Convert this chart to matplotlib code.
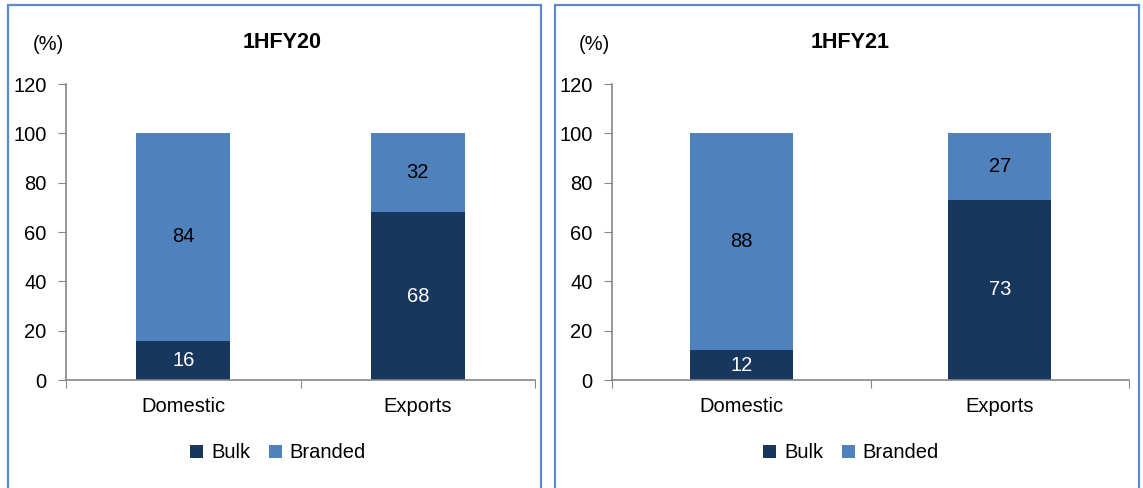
import matplotlib.pyplot as plt
from matplotlib.patches import Rectangle
import numpy as np

plt.rcParams['font.family'] = ['Liberation Sans', 'DejaVu Sans']
FS = 14.5
TFS = 15.5

categories = ["Domestic", "Exports"]
titles = ["1HFY20", "1HFY21"]
bulk = [[16, 68], [12, 73]]
branded = [[84, 32], [88, 27]]
yticks = [0, 20, 40, 60, 80, 100, 120]

BULK_C = "#17375E"
BRAND_C = "#4F81BD"
BORDER_C = "#5B8BC9"
AXIS_C = "#868686"

W, H = 1143, 488
fig = plt.figure(figsize=(W / 100, H / 100), dpi=100)

# panel boxes
for (x0, x1) in [(8, 541), (555, 1139)]:
    fig.patches.append(Rectangle((x0 / W, -0.05), (x1 - x0) / W, (H - 5) / H + 0.05,
                                 transform=fig.transFigure, fill=False,
                                 edgecolor=BORDER_C, linewidth=1.6))

axes_px = [(66, 469), (612, 517)]
legend_cx = [278, 851]
for i, (ax_x, ax_w) in enumerate(axes_px):
    ax = fig.add_axes([ax_x / W, 108 / H, ax_w / W, 296 / H])
    x = np.arange(len(categories))
    b1 = ax.bar(x, bulk[i], width=0.4, color=BULK_C, label="Bulk")
    b2 = ax.bar(x, branded[i], width=0.4, bottom=bulk[i], color=BRAND_C, label="Branded")
    for j in range(len(categories)):
        ax.text(x[j], bulk[i][j] / 2, str(bulk[i][j]), ha="center", va="center",
                color="white", fontsize=FS)
        ax.text(x[j], bulk[i][j] + branded[i][j] / 2, str(branded[i][j]), ha="center",
                va="center", color="black", fontsize=FS)
    ax.set_xlim(-0.5, 1.5)
    ax.set_ylim(0, 120)
    ax.set_yticks(yticks)
    ax.set_yticklabels([str(v) for v in yticks], fontsize=FS)
    ax.set_xticks([-0.5, 0.5, 1.5])
    ax.set_xticklabels([])
    ax.set_xticks(x, minor=True)
    ax.set_xticklabels(categories, minor=True, fontsize=FS)
    ax.tick_params(axis="x", which="minor", length=0, pad=12)
    ax.tick_params(axis="x", which="major", length=6, color=AXIS_C, direction="out")
    ax.tick_params(axis="y", length=6, color=AXIS_C, pad=8)
    for s in ["top", "right"]:
        ax.spines[s].set_visible(False)
    for s in ["left", "bottom"]:
        ax.spines[s].set_color(AXIS_C)
        ax.spines[s].set_linewidth(1.2)
    fig.text((ax_x - 18) / W, (H - 45) / H, "(%)", ha="center", va="center", fontsize=FS)
    fig.text((ax_x + ax_w * 0.46) / W, (H - 42) / H, titles[i], ha="center", va="center",
             fontsize=TFS, fontweight="bold")
    fig.legend(handles=[b1, b2], labels=["Bulk", "Branded"], loc="center",
               bbox_to_anchor=(legend_cx[i] / W, (H - 453) / H), ncol=2, frameon=False,
               fontsize=FS, handlelength=0.65, handleheight=0.65, handletextpad=0.4,
               columnspacing=0.9)

fig.savefig("out.png", dpi=100)
